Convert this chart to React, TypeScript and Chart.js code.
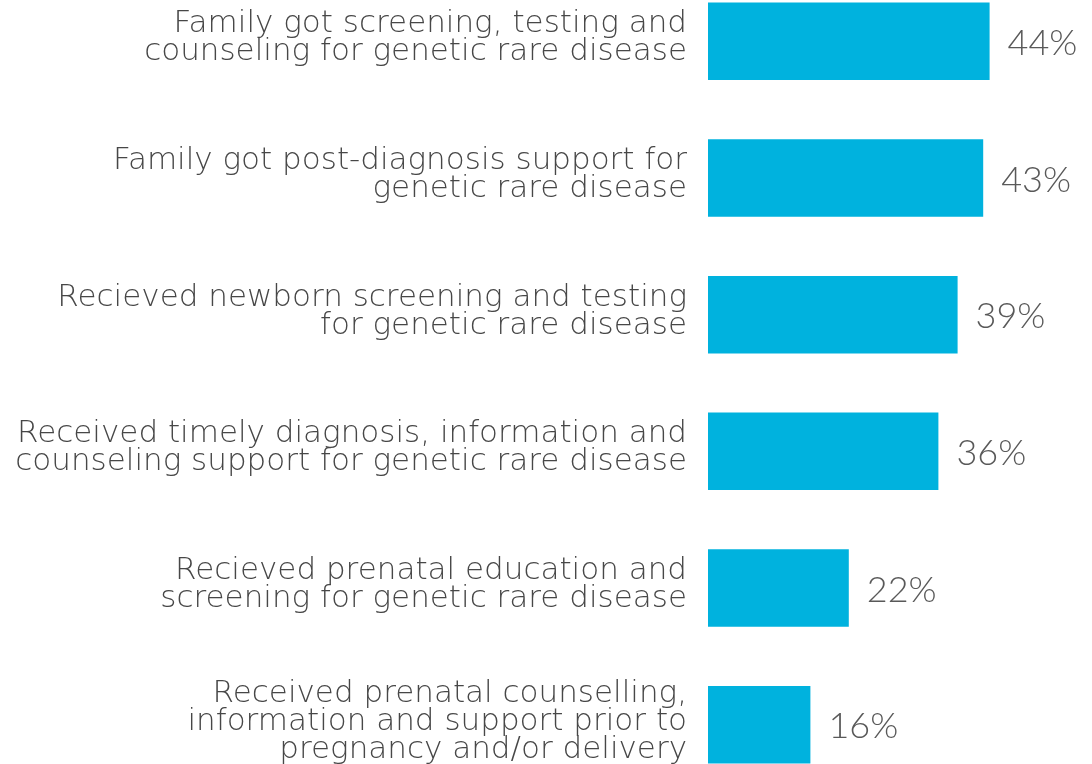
import React, { useEffect, useRef } from "react";
import { Chart, registerables } from "chart.js";

Chart.register(...registerables);

const categories: string[][] = [
  ["Family got screening, testing and", "counseling for genetic rare disease"],
  ["Family got post-diagnosis support for", "genetic rare disease"],
  ["Recieved newborn screening and testing", "for genetic rare disease"],
  ["Received timely diagnosis, information and", "counseling support for genetic rare disease"],
  ["Recieved prenatal education and", "screening for genetic rare disease"],
  ["Received prenatal counselling,", "information and support prior to", "pregnancy and/or delivery"],
];
const values: number[] = [44, 43, 39, 36, 22, 16];
const valueLabels: string[] = ["44%", "43%", "39%", "36%", "22%", "16%"];

const LABEL_FONT = "'DejaVu Sans', sans-serif";
const VALUE_FONT = "'Lato', 'DejaVu Sans', sans-serif";
const TEXT = "#595959";
const LABEL_TEXT = "#474747";
const BAR = "#00B2DE";

export default function App() {
  const ref = useRef<HTMLCanvasElement | null>(null);
  useEffect(() => {
    if (!ref.current) return;
    const valuePlugin = {
      id: "valueLabels",
      afterDatasetsDraw(chart: any) {
        const ctx = chart.ctx;
        const meta = chart.getDatasetMeta(0);
        ctx.save();
        ctx.fillStyle = TEXT;
        ctx.font = `300 36px ${VALUE_FONT}`;
        ctx.textAlign = "left";
        ctx.textBaseline = "middle";
        meta.data.forEach((bar: any, i: number) => {
          ctx.fillText(valueLabels[i], bar.x + 18, bar.y + 2);
        });
        ctx.restore();
      },
    };
    const chart = new Chart(ref.current, {
      type: "bar",
      data: {
        labels: categories,
        datasets: [
          {
            data: values,
            backgroundColor: BAR,
            borderWidth: 0,
            barPercentage: 0.567,
            categoryPercentage: 1,
          },
        ],
      },
      options: {
        indexAxis: "y",
        animation: false,
        responsive: false,
        devicePixelRatio: 1,
        layout: { padding: 0 },
        plugins: { legend: { display: false }, tooltip: { enabled: false } },
        scales: {
          x: { display: false, min: 0, max: 60 },
          y: {
            grid: { display: false, drawTicks: false },
            border: { display: false },
            ticks: {
              padding: 21,
              labelOffset: -3,
              color: LABEL_TEXT,
              font: { family: LABEL_FONT, size: 31, weight: "200", lineHeight: 0.9 },
            },
            afterFit(scale: any) {
              scale.width = 708;
              scale.paddingTop = 0;
              scale.paddingBottom = 0;
            },
          },
        },
      },
      plugins: [valuePlugin],
    });
    return () => chart.destroy();
  }, []);
  return (
    <div style={{ position: "fixed", left: 0, top: 0, width: 1092, height: 764, overflow: "hidden", background: "#fff" }}>
      <canvas ref={ref} width={1092} height={820} style={{ position: "absolute", left: 0, top: -27, width: 1092, height: 820 }} />
    </div>
  );
}
